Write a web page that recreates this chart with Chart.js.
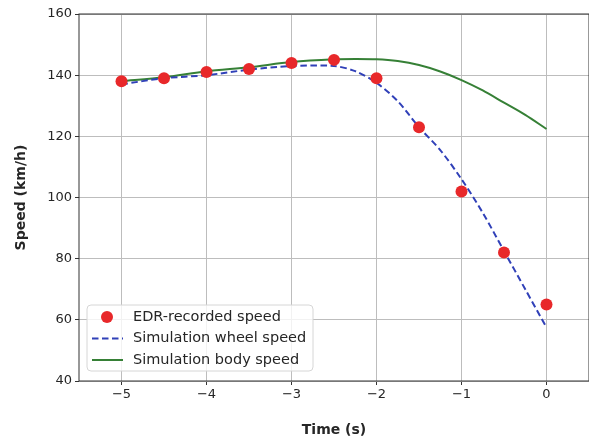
<!DOCTYPE html>
<html>
<head>
<meta charset="utf-8">
<script src="https://cdn.jsdelivr.net/npm/chart.js@4"></script>
<style>
  html, body { margin: 0; padding: 0; background: #fff; }
  #wrap { width: 589px; height: 439px; }
</style>
</head>
<body>
<div id="wrap"><canvas id="myChart" width="589" height="439"></canvas></div>
<script>
// EDR points
const edrTime = [-5, -4.5, -4, -3.5, -3, -2.5, -2, -1.5, -1, -0.5, 0];
const edrSpeed = [138, 139, 141, 142, 144, 145, 139, 123, 102, 82, 65];

// simulation curves
const simTime = [-5, -4.5, -4, -3.5, -3, -2.5, -2.25, -2, -1.75, -1.5, -1.25, -1, -0.75, -0.5, -0.25, 0];
const wheelSpeed = [137, 139, 140, 141.8, 143, 143, 141.3, 137.5, 131.5, 123, 115.5, 106, 95, 82.5, 70, 57.5];
const bodySpeed = [138, 139.3, 141.3, 142.6, 144.3, 145.2, 145.3, 145.2, 144.6, 143.3, 141.2, 138.4, 135, 131, 127, 122.4];

const xTicks = [-5, -4, -3, -2, -1, 0];
const yTicks = [40, 60, 80, 100, 120, 140, 160];

const legendLabels = ["EDR-recorded speed", "Simulation wheel speed", "Simulation body speed"];

const toXY = (xs, ys) => xs.map((x, i) => ({ x: x, y: ys[i] }));
const minus = (v) => String(v).replace("-", "\u2212");

const red = "#e8282a";
const blue = "#3040b8";
const green = "#368036";

// matplotlib-like frame and legend inside the plot
const framePlugin = {
  id: "frame",
  afterDraw(chart) {
    const { ctx, chartArea: a } = chart;
    ctx.save();
    ctx.strokeStyle = "#333";
    ctx.lineWidth = 1;
    ctx.strokeRect(a.left, a.top, a.right - a.left, a.bottom - a.top);

    // legend box
    const bx = 87, by = 305, bw = 226, bh = 66, r = 4;
    ctx.beginPath();
    ctx.moveTo(bx + r, by);
    ctx.arcTo(bx + bw, by, bx + bw, by + bh, r);
    ctx.arcTo(bx + bw, by + bh, bx, by + bh, r);
    ctx.arcTo(bx, by + bh, bx, by, r);
    ctx.arcTo(bx, by, bx + bw, by, r);
    ctx.closePath();
    ctx.fillStyle = "rgba(255,255,255,0.8)";
    ctx.fill();
    ctx.strokeStyle = "#d6d6d6";
    ctx.stroke();

    const rows = [317, 338.5, 360];
    ctx.font = "14.5px 'DejaVu Sans'";
    ctx.fillStyle = "#262626";
    ctx.textBaseline = "middle";
    legendLabels.forEach((t, i) => ctx.fillText(t, 133, rows[i]));

    ctx.fillStyle = red;
    ctx.beginPath();
    ctx.arc(107, rows[0], 6, 0, Math.PI * 2);
    ctx.fill();

    ctx.lineWidth = 2;
    ctx.strokeStyle = blue;
    ctx.setLineDash([6.5, 3.5]);
    ctx.beginPath();
    ctx.moveTo(92, rows[1]);
    ctx.lineTo(123, rows[1]);
    ctx.stroke();

    ctx.setLineDash([]);
    ctx.strokeStyle = green;
    ctx.beginPath();
    ctx.moveTo(92, rows[2]);
    ctx.lineTo(123, rows[2]);
    ctx.stroke();
    ctx.restore();
  }
};

const ctx = document.getElementById("myChart").getContext("2d");
const myChart = new Chart(ctx, {
  type: "scatter",
  data: {
    datasets: [
      {
        label: legendLabels[0],
        data: toXY(edrTime, edrSpeed),
        backgroundColor: red,
        borderColor: red,
        pointRadius: 6,
        borderWidth: 0,
        showLine: false,
      },
      {
        label: legendLabels[1],
        data: toXY(simTime, wheelSpeed),
        borderColor: blue,
        borderWidth: 2,
        borderDash: [6.5, 3.5],
        pointRadius: 0,
        showLine: true,
        tension: 0.3,
        fill: false,
      },
      {
        label: legendLabels[2],
        data: toXY(simTime, bodySpeed),
        borderColor: green,
        borderWidth: 2,
        pointRadius: 0,
        showLine: true,
        tension: 0.3,
        fill: false,
      },
    ],
  },
  options: {
    responsive: false,
    animation: false,
    layout: { autoPadding: false, padding: { top: 14, right: 0, left: 0, bottom: 0 } },
    scales: {
      x: {
        type: "linear",
        min: -5.5,
        max: 0.5,
        afterBuildTicks: (s) => { s.ticks = xTicks.map((v) => ({ value: v })); },
        afterFit: (s) => {
          s.height = 58;
          s.paddingLeft = 0;
          s.paddingRight = 0;
        },
        ticks: {
          color: "#262626",
          font: { family: "DejaVu Sans", size: 13 },
          padding: 2,
          callback: (v) => minus(v),
        },
        grid: { color: "#bdbdbd", lineWidth: 1, tickLength: 4, tickColor: "#333" },
        border: { display: false },
        title: {
          display: true,
          text: "Time (s)",
          color: "#262626",
          font: { family: "DejaVu Sans", size: 14, weight: "bold" },
          padding: { top: 14, bottom: 0 },
        },
      },
      y: {
        min: 40,
        max: 160,
        afterBuildTicks: (s) => { s.ticks = yTicks.map((v) => ({ value: v })); },
        afterFit: (s) => {
          s.width = 79;
          s.paddingTop = 0;
          s.paddingBottom = 0;
        },
        ticks: {
          color: "#262626",
          font: { family: "DejaVu Sans", size: 13 },
          padding: 3,
        },
        grid: { color: "#bdbdbd", lineWidth: 1, tickLength: 4, tickColor: "#333" },
        border: { display: false },
        title: {
          display: true,
          text: "Speed (km/h)",
          color: "#262626",
          font: { family: "DejaVu Sans", size: 14, weight: "bold" },
          padding: { top: 13, bottom: 0 },
        },
      },
    },
    plugins: {
      legend: { display: false },
      tooltip: { enabled: false },
    },
  },
  plugins: [framePlugin],
});
</script>
</body>
</html>
